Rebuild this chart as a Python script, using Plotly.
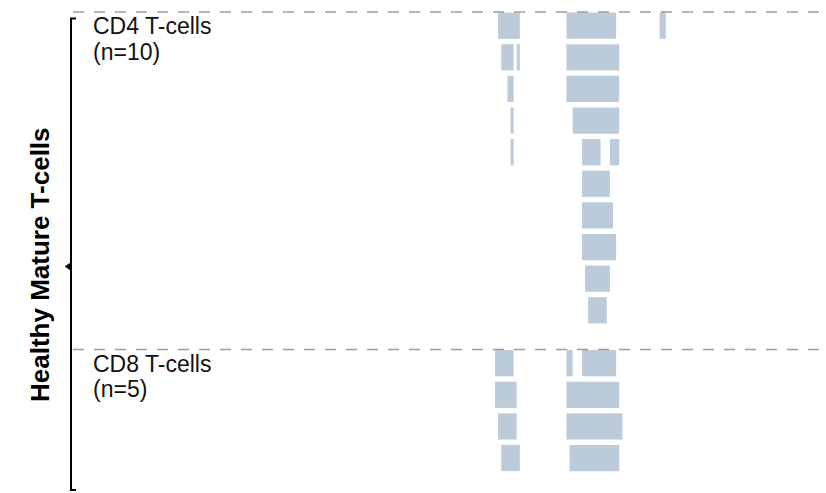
import plotly.graph_objects as go

# ---------------- data ----------------
group_names = ["CD4 T-cells", "CD8 T-cells"]
group_counts = ["(n=10)", "(n=5)"]
super_group = "Healthy Mature T-cells"

# segments per row: (start, end) positions
cd4_segments = [
    [(161, 168), (183, 199), (213, 215)],
    [(162, 166), (167, 168), (183, 200)],
    [(164, 166), (183, 200)],
    [(165, 166), (185, 200)],
    [(165, 166), (188, 194), (197, 200)],
    [(188, 197)],
    [(188, 198)],
    [(188, 199)],
    [(189, 197)],
    [(190, 196)],
]
cd8_segments = [
    [(160, 166), (183, 185), (188, 199)],
    [(160, 167), (183, 200)],
    [(161, 167), (183, 201)],
    [(162, 168), (184, 200)],
    [],
]
groups = [cd4_segments, cd8_segments]

# ---------------- style / layout ----------------
W, H = 826, 493
BAR_COLOR = "#bccbda"
DASH_COLOR = "#9c9c9c"
FONT = "Liberation Sans, Arial, sans-serif"
GROUP_GAP = 0.67
BAR_H = 0.83
PITCH = 31.63          # px per row
ROW0_PX = 25.65        # px centre of first row
X_UNIT = 3.105         # px per position unit
X_REF_PX, X_REF_V = 495, 160

def px_x(px):
    return px / W

def px_y(py):
    return 1 - py / H

fig = go.Figure()

group_starts = []
offset = 0.0
for gi, rows in enumerate(groups):
    group_starts.append(offset)
    ys, bases, lens = [], [], []
    for ri, segs in enumerate(rows):
        for (s, e) in segs:
            ys.append(offset + ri)
            bases.append(s)
            lens.append(e - s)
    fig.add_trace(go.Bar(
        y=ys, x=lens, base=bases, orientation="h",
        width=[BAR_H] * len(ys),
        marker=dict(color=BAR_COLOR, line=dict(width=0)),
        hoverinfo="skip", showlegend=False,
    ))
    offset += len(rows) + GROUP_GAP

shapes = []
annotations = []
for gi, start in enumerate(group_starts):
    shapes.append(dict(
        type="line", xref="paper", yref="y",
        x0=px_x(73), x1=1, y0=start - BAR_H / 2 - 0.02, y1=start - BAR_H / 2 - 0.02,
        line=dict(color=DASH_COLOR, width=1.5, dash="11px,10px"),
    ))
    annotations.append(dict(
        xref="paper", yref="y", x=px_x(91), y=start + 0.02,
        text=group_names[gi], showarrow=False, xanchor="left", yanchor="middle",
        font=dict(family=FONT, size=23, color="#111111"),
    ))
    annotations.append(dict(
        xref="paper", yref="y", x=px_x(91), y=start + 0.82,
        text=group_counts[gi], showarrow=False, xanchor="left", yanchor="middle",
        font=dict(family=FONT, size=23, color="#111111"),
    ))

# bracket
bx, bx2, btop, bbot = 71, 76, 18.5, 490
shapes.append(dict(
    type="path", xref="paper", yref="paper",
    path=f"M {px_x(bx2)},{px_y(btop)} L {px_x(bx)},{px_y(btop)} "
         f"L {px_x(bx)},{px_y(bbot)} L {px_x(bx2)},{px_y(bbot)}",
    line=dict(color="#000000", width=2),
))
shapes.append(dict(
    type="path", xref="paper", yref="paper",
    path=f"M {px_x(65)},{px_y(266.5)} L {px_x(71)},{px_y(262.5)} "
         f"L {px_x(71)},{px_y(270.5)} Z",
    fillcolor="#000000", line=dict(color="#000000", width=0.5),
))
annotations.append(dict(
    xref="paper", yref="paper", x=px_x(40), y=px_y(265),
    text=f"<b>{super_group}</b>", showarrow=False, textangle=-90,
    xanchor="center", yanchor="middle",
    font=dict(family=FONT, size=26, color="#000000"),
))

y_top = (0 - ROW0_PX) / PITCH
y_bot = (H - ROW0_PX) / PITCH
x_lo = X_REF_V + (0 - X_REF_PX) / X_UNIT
x_hi = X_REF_V + (W - X_REF_PX) / X_UNIT

fig.update_layout(
    width=W, height=H,
    margin=dict(l=0, r=0, t=0, b=0),
    paper_bgcolor="white", plot_bgcolor="white",
    barmode="overlay",
    xaxis=dict(range=[x_lo, x_hi], visible=False, fixedrange=True),
    yaxis=dict(range=[y_bot, y_top], visible=False, fixedrange=True),
    shapes=shapes, annotations=annotations,
)

fig.write_html(
    "out.html",
    config={"displayModeBar": False},
    post_script="document.body.style.margin='0';document.body.style.overflow='hidden';",
)
